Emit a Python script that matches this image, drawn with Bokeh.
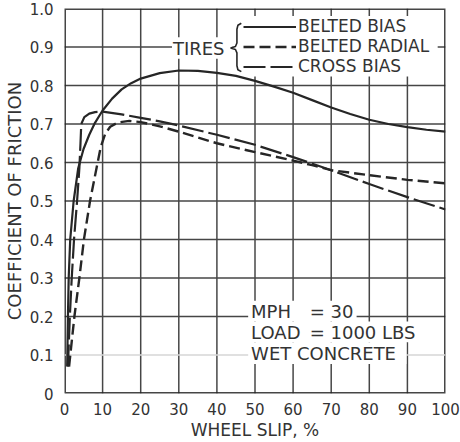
from bokeh.plotting import figure
from bokeh.models import FixedTicker, Range1d, Legend, LegendItem
from bokeh.core.properties import value
from bokeh.embed import file_html
from bokeh.resources import INLINE

# ---------------- data ----------------
x_ticks = [0, 10, 20, 30, 40, 50, 60, 70, 80, 90, 100]
x_tick_labels = ["0", "10", "20", "30", "40", "50", "60", "70", "80", "90", "100"]
y_ticks = [0.0, 0.1, 0.2, 0.3, 0.4, 0.5, 0.6, 0.7, 0.8, 0.9, 1.0]
y_tick_labels = ["0", "0.1", "0.2", "0.3", "0.4", "0.5", "0.6", "0.7", "0.8", "0.9", "1.0"]

belted_bias_x = [0.7, 0.9, 1.1, 1.5, 2.4, 3.6, 5, 6.5, 8, 10, 12.5, 15, 17.5, 20, 25, 30, 35,
                 40, 45, 50, 55, 60, 65, 70, 75, 80, 85, 90, 95, 100]
belted_bias_y = [0.07, 0.2, 0.3, 0.4, 0.5, 0.585, 0.635, 0.672, 0.703, 0.735, 0.766, 0.79, 0.806,
                 0.818, 0.832, 0.839, 0.838, 0.833, 0.825, 0.812, 0.797, 0.781, 0.762, 0.743,
                 0.726, 0.711, 0.70, 0.692, 0.685, 0.68]

belted_radial_x = [1.2, 2.6, 3.9, 5.1, 6.7, 8.4, 9.5, 10.7, 12, 14, 17, 20, 25, 30, 40, 50, 60,
                   65, 70, 80, 90, 100]
belted_radial_y = [0.07, 0.2, 0.3, 0.4, 0.5, 0.585, 0.64, 0.675, 0.693, 0.704, 0.708, 0.705,
                   0.694, 0.68, 0.65, 0.627, 0.605, 0.593, 0.58, 0.567, 0.555, 0.546]

cross_bias_x = [0.9, 1.4, 1.9, 2.5, 3.3, 3.9, 4.2, 4.4, 5.2, 6.5, 8, 10, 15, 20, 25, 30, 40, 50,
                60, 70, 80, 90, 100]
cross_bias_y = [0.07, 0.2, 0.3, 0.4, 0.5, 0.585, 0.65, 0.70, 0.718, 0.727, 0.731, 0.732, 0.725,
                0.716, 0.707, 0.696, 0.672, 0.646, 0.614, 0.58, 0.544, 0.51, 0.478]

series_names = ["BELTED BIAS", "BELTED RADIAL", "CROSS BIAS"]
notes_left = ["MPH", "LOAD", "WET  CONCRETE"]
notes_right = ["= 30", "= 1000 LBS"]

# ---------------- layout helpers (pixel -> data, frame 55..445 x 8..398) ----------------
FL, FT, FW, FH = 55.0, 8.0, 390.0, 390.0


def dx(px):
    return (px - FL) / FW * 100.0


def dy(py):
    return (FT + FH - py) / FH


INK = "#262626"
TXT = "#333333"
FONT = "DejaVu Sans"
NAN = float("nan")

p = figure(width=460, height=442, x_range=Range1d(0, 100), y_range=Range1d(0, 1),
           output_backend="svg", toolbar_location=None,
           min_border_left=55, min_border_right=15, min_border_top=8, min_border_bottom=44)
p.outline_line_color = None
p.grid.visible = False

for ax in (p.xaxis[0], p.yaxis[0]):
    ax.axis_line_color = None
    ax.major_tick_line_color = None
    ax.minor_tick_line_color = None
    ax.major_label_text_font = FONT
    ax.major_label_text_font_size = "15px"
    ax.major_label_text_color = TXT
    ax.axis_label_text_font = FONT
    ax.axis_label_text_font_style = "normal"
    ax.axis_label_text_color = TXT

p.xaxis.ticker = FixedTicker(ticks=x_ticks)
p.xaxis.major_label_overrides = {t: l for t, l in zip(x_ticks, x_tick_labels)}
p.yaxis.ticker = FixedTicker(ticks=y_ticks)
p.yaxis.major_label_overrides = {t: l for t, l in zip(y_ticks, y_tick_labels)}
p.xaxis.major_label_standoff = 3
p.yaxis.major_label_standoff = 5
p.xaxis.axis_label = "WHEEL SLIP, %"
p.yaxis.axis_label = "COEFFICIENT OF FRICTION"
p.xaxis.axis_label_text_font_size = "17px"
p.yaxis.axis_label_text_font_size = "18px"
p.xaxis.axis_label_standoff = 2
p.yaxis.axis_label_standoff = 2

# ---------------- grid drawn as line glyphs from the tick lists ----------------
gx, gy = [], []
for t in x_ticks[1:-1]:
    gx += [t, t, NAN]
    gy += [y_ticks[0], y_ticks[-1], NAN]
for t in y_ticks[2:-1]:
    gx += [x_ticks[0], x_ticks[-1], NAN]
    gy += [t, t, NAN]
p.line(gx, gy, line_color=INK, line_width=1.5, line_alpha=0.85)
# frame box
fx = [x_ticks[0], x_ticks[-1], x_ticks[-1], x_ticks[0], x_ticks[0]]
fy = [y_ticks[0], y_ticks[0], y_ticks[-1], y_ticks[-1], y_ticks[0]]
p.line(fx, fy, line_color=INK, line_width=3, line_alpha=0.85)
# faded 0.1 line
p.line([x_ticks[0], x_ticks[-1]], [y_ticks[1], y_ticks[1]], line_color="#d6d6d6", line_width=1.5)

# ---------------- masks (white paper behind labels) ----------------
mask_l = [dx(227), dx(165), dx(243), dx(243), dx(243)]
mask_r = [dx(437), dx(227), dx(354), dx(411), dx(405)]
mask_t = [dy(17), dy(37), dy(304), dy(325), dy(346)]
mask_b = [dy(77), dy(59), dy(325), dy(346), dy(368)]
p.quad(left=mask_l, right=mask_r, top=mask_t, bottom=mask_b, fill_color="white", line_color=None)

# ---------------- curves ----------------
r1 = p.line(belted_bias_x, belted_bias_y, line_color=INK, line_width=2.2)
r2 = p.line(belted_radial_x, belted_radial_y, line_color=INK, line_width=2.4, line_dash="11 5")
r3 = p.line(cross_bias_x, cross_bias_y, line_color=INK, line_width=2.2, line_dash="22 5")

# ---------------- legend ----------------
legend = Legend(items=[LegendItem(label=series_names[0], renderers=[r1]),
                       LegendItem(label=series_names[1], renderers=[r2]),
                       LegendItem(label=series_names[2], renderers=[r3])],
                location=(179, 317), orientation="vertical",
                glyph_width=53, glyph_height=19, label_height=19, label_standoff=2,
                spacing=0, padding=2, margin=0,
                label_text_font=FONT, label_text_font_size="17px", label_text_color=TXT,
                background_fill_color="white", background_fill_alpha=1.0,
                border_line_color=None)
p.add_layout(legend, "center")

p.text(x=[dx(166)], y=[dy(49)], text=["TIRES"], text_font=value(FONT),
       text_font_size="18px", text_color=TXT, text_align="left", text_baseline="middle")
brace_px = [(236, 23), (232.5, 25), (231.5, 29), (231.5, 43), (230, 46.5), (225, 48),
            (230, 49.5), (231.5, 53), (231.5, 66), (232.5, 70), (236, 72)]
p.line([dx(a) for a, b in brace_px], [dy(b) for a, b in brace_px], line_color=INK, line_width=1.6)

# ---------------- notes ----------------
note_y = [dy(315), dy(336), dy(357)]
p.text(x=[dx(246)] * 3, y=note_y, text=notes_left, text_font=value(FONT),
       text_font_size="18px", text_color=TXT, text_align="left", text_baseline="middle")
p.text(x=[dx(306)] * 2, y=note_y[:2], text=notes_right, text_font=value(FONT),
       text_font_size="18px", text_color=TXT, text_align="left", text_baseline="middle")

open("out.html", "w").write(file_html(p, INLINE))
